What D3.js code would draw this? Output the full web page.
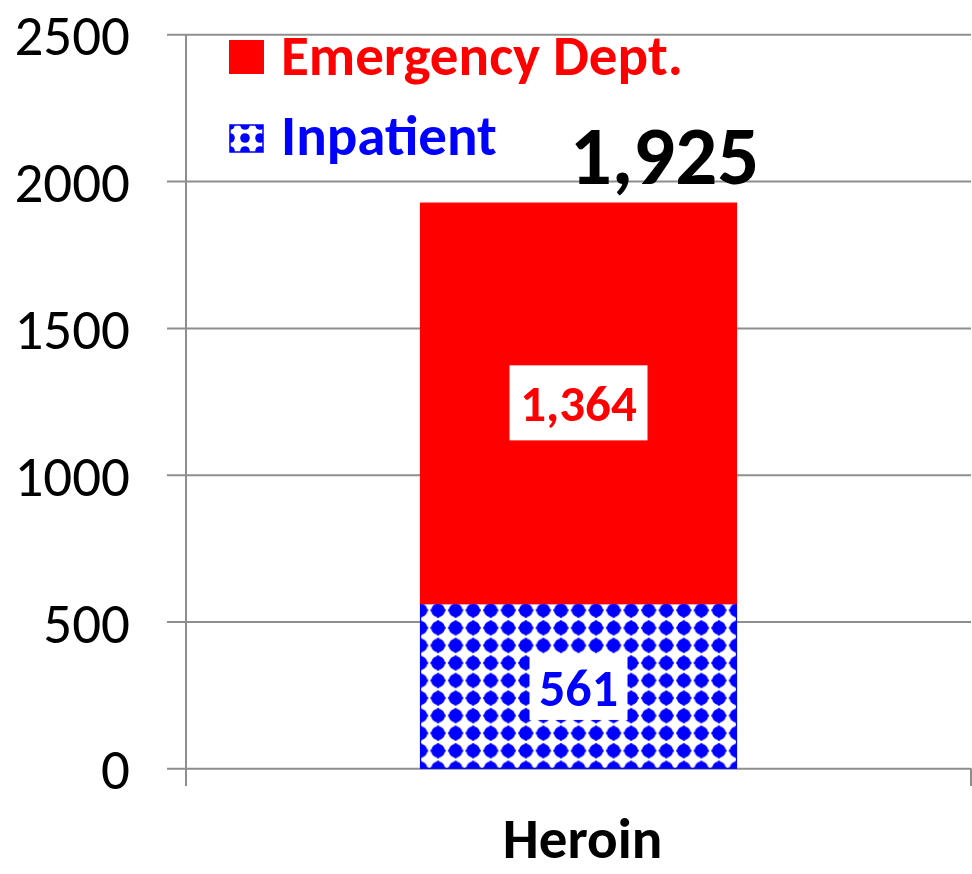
<!DOCTYPE html>
<html>
<head>
<meta charset="utf-8">
<script src="https://cdn.jsdelivr.net/npm/d3@7"></script>
<style>
  html, body { margin: 0; padding: 0; background: #fff; }
  svg { display: block; }
  text { font-family: Calibri, Carlito, Lato, sans-serif; }
</style>
</head>
<body>
<svg id="chart" width="972" height="874"></svg>
<script>
// ---- data ----
const categories = ["Heroin"];
const seriesNames = ["Inpatient", "Emergency Dept."];
const inpatientValues = [561];
const emergencyValues = [1364];
const totals = [1925];
const yTicks = [0, 500, 1000, 1500, 2000, 2500];

const W = 972, H = 874;
const svg = d3.select("#chart");
const gridColor = "#8e8e8e";
const red = "#ff0000", blue = "#0000ff";

const y = d3.scaleLinear().domain([0, 2500]).range([768.3, 34.3]);
const x = d3.scaleBand().domain(categories).range([186, 971]).padding(0.426);
const fmt = d3.format(",");

// pattern for inpatient
const defs = svg.append("defs");
const bw = x.bandwidth();
const p = bw / 18;
const x0 = x(categories[0]);
const pat = defs.append("pattern")
  .attr("id", "dots")
  .attr("patternUnits", "userSpaceOnUse")
  .attr("width", p).attr("height", p)
  .attr("x", x0 - p / 2).attr("y", y(0) - p / 2);
pat.append("rect").attr("width", p).attr("height", p).attr("fill", "#fff");
pat.append("circle").attr("cx", p / 2).attr("cy", p / 2).attr("r", p * 0.39).attr("fill", blue);
pat.append("rect").attr("x", p / 2 - p * 0.43).attr("y", p / 2 - 1.2).attr("width", p * 0.86).attr("height", 2.4).attr("fill", blue);
pat.append("rect").attr("y", p / 2 - p * 0.43).attr("x", p / 2 - 1.2).attr("height", p * 0.86).attr("width", 2.4).attr("fill", blue);

const pat2 = defs.append("pattern")
  .attr("id", "dotsSmall")
  .attr("patternUnits", "userSpaceOnUse")
  .attr("width", 15).attr("height", 13)
  .attr("x", 230).attr("y", 125);
pat2.append("rect").attr("width", 15).attr("height", 13).attr("fill", "#fff");
[[0,0],[15,0],[0,13],[15,13]].forEach(([cx, cy]) =>
  pat2.append("circle").attr("cx", cx).attr("cy", cy).attr("r", 4.8).attr("fill", blue));

// gridlines + y axis
const yAxis = d3.axisLeft(y).tickValues(yTicks).tickSize(-(971 - 186)).tickPadding(0).tickFormat(d3.format("d"));
const gy = svg.append("g").attr("transform", "translate(186,0)").call(yAxis);
gy.select(".domain").remove();
gy.selectAll(".tick line").attr("stroke", gridColor).attr("stroke-width", 2).attr("x1", -19);
gy.selectAll(".tick text")
  .attr("x", -56).attr("dy", "0.36em")
  .attr("fill", "#000").style("font-size", "57px").style("font-family", "Calibri, Carlito, Lato, sans-serif");

// axis lines
svg.append("line").attr("x1", 186).attr("x2", 186).attr("y1", y(2500)).attr("y2", 786)
  .attr("stroke", gridColor).attr("stroke-width", 2);
svg.append("line").attr("x1", 971).attr("x2", 971).attr("y1", y(0)).attr("y2", 786)
  .attr("stroke", gridColor).attr("stroke-width", 2);

// bars
const stackData = categories.map((c, i) => ({ cat: c, Inpatient: inpatientValues[i], "Emergency Dept.": emergencyValues[i] }));
const stacked = d3.stack().keys(seriesNames)(stackData);
const fills = { "Inpatient": "url(#dots)", "Emergency Dept.": red };
const strokes = { "Inpatient": blue, "Emergency Dept.": red };

stacked.forEach(layer => {
  svg.append("g").selectAll("rect").data(layer).join("rect")
    .attr("x", d => x(d.data.cat))
    .attr("width", x.bandwidth())
    .attr("y", d => y(d[1]))
    .attr("height", d => y(d[0]) - y(d[1]))
    .attr("fill", fills[layer.key])
    .attr("stroke", strokes[layer.key])
    .attr("stroke-width", 1.2);
});

// value labels with white boxes
function boxedLabel(cx, cy, txt, color, bwid, bht, fs) {
  const g = svg.append("g");
  g.append("rect").attr("x", cx - bwid / 2).attr("y", cy - bht / 2).attr("width", bwid).attr("height", bht).attr("fill", "#fff");
  g.append("text").attr("x", cx).attr("y", cy).attr("dy", "0.36em").attr("text-anchor", "middle")
    .attr("fill", color).style("font-weight", "bold").style("font-size", fs + "px").text(txt);
}
categories.forEach((c, i) => {
  const cx = x(c) + x.bandwidth() / 2;
  const e0 = inpatientValues[i], e1 = inpatientValues[i] + emergencyValues[i];
  boxedLabel(cx, (y(e0) + y(e1)) / 2 - 0.5, fmt(emergencyValues[i]), red, 138, 75, 51);
  boxedLabel(cx, y(e0 / 2) + 1, fmt(inpatientValues[i]), blue, 98, 66, 52);
  // total
  svg.append("text").attr("x", cx + 86).attr("y", y(totals[i]) - 19).attr("text-anchor", "middle")
    .attr("fill", "#000").style("font-weight", "bold").style("font-size", "83px").text(fmt(totals[i]));
  // category label
  svg.append("text").attr("x", cx + 4).attr("y", 858).attr("text-anchor", "middle")
    .attr("fill", "#000").style("font-weight", "bold").style("font-size", "57px").text(c);
});

// legend
const leg = svg.append("g");
leg.append("rect").attr("x", 229).attr("y", 40).attr("width", 35).attr("height", 34).attr("fill", red);
leg.append("text").attr("x", 281).attr("y", 75).attr("fill", red)
  .style("font-weight", "bold").style("font-size", "57px").text(seriesNames[1]);
leg.append("rect").attr("x", 230).attr("y", 125).attr("width", 33).attr("height", 27)
  .attr("fill", "url(#dotsSmall)").attr("stroke", blue).attr("stroke-width", 1.5);
leg.append("text").attr("x", 281).attr("y", 155).attr("fill", blue)
  .style("font-weight", "bold").style("font-size", "57px").text(seriesNames[0]);
</script>
</body>
</html>
